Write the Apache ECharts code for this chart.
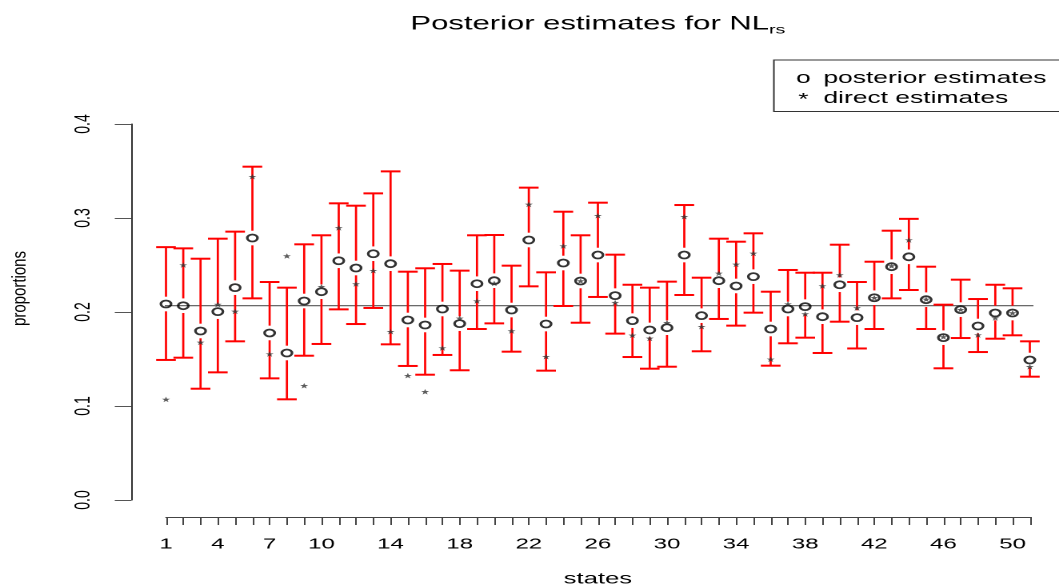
<!DOCTYPE html>
<html>
<head>
<meta charset="utf-8">
<script src="https://cdn.jsdelivr.net/npm/echarts@6/dist/echarts.min.js"></script>
<style>
  html, body { margin: 0; padding: 0; background: #fff; overflow: hidden; width: 1059px; height: 586px; }
  /* the plot is laid out on a narrower canvas and widened, like a stretched R device */
  #chart { width: 662px; height: 586px; transform: scaleX(1.5997); transform-origin: 0 0; }
</style>
</head>
<body>
<div id="chart"></div>
<script>
// state index (50 states + DC)
const states = [1, 2, 3, 4, 5, 6, 7, 8, 9, 10, 11, 12, 13, 14, 15, 16, 17, 18, 19, 20,
  21, 22, 23, 24, 25, 26, 27, 28, 29, 30, 31, 32, 33, 34, 35, 36, 37, 38, 39, 40,
  41, 42, 43, 44, 45, 46, 47, 48, 49, 50, 51];

// posterior means
const posterior = [0.2085, 0.2067, 0.1798, 0.2004, 0.2259, 0.2787, 0.1777, 0.1564, 0.2117, 0.2216,
  0.2545, 0.2468, 0.2620, 0.2514, 0.1915, 0.1862, 0.2032, 0.1876, 0.2301, 0.2333,
  0.2021, 0.2766, 0.1872, 0.2521, 0.2330, 0.2606, 0.2174, 0.1908, 0.1809, 0.1833,
  0.2606, 0.1961, 0.2333, 0.2277, 0.2376, 0.1819, 0.2032, 0.2057, 0.1950, 0.2290,
  0.1940, 0.2152, 0.2482, 0.2587, 0.2131, 0.1727, 0.2025, 0.1851, 0.1989, 0.1989, 0.1489];

// lower and upper interval limits
const lower = [0.1490, 0.1514, 0.1184, 0.1358, 0.1688, 0.2145, 0.1294, 0.1071, 0.1535, 0.1660,
  0.2028, 0.1872, 0.2043, 0.1656, 0.1426, 0.1333, 0.1543, 0.1380, 0.1819, 0.1879,
  0.1578, 0.2273, 0.1376, 0.2064, 0.1886, 0.2160, 0.1770, 0.1521, 0.1397, 0.1418,
  0.2181, 0.1582, 0.1926, 0.1855, 0.1993, 0.1429, 0.1667, 0.1727, 0.1564, 0.1897,
  0.1612, 0.1819, 0.2145, 0.2234, 0.1819, 0.1401, 0.1723, 0.1574, 0.1716, 0.1752, 0.1312];

const upper = [0.2690, 0.2677, 0.2567, 0.2780, 0.2855, 0.3546, 0.2319, 0.2259, 0.2720, 0.2816,
  0.3156, 0.3131, 0.3262, 0.3496, 0.2429, 0.2465, 0.2511, 0.2440, 0.2816, 0.2819,
  0.2493, 0.3323, 0.2422, 0.3067, 0.2816, 0.3163, 0.2610, 0.2290, 0.2259, 0.2323,
  0.3138, 0.2365, 0.2780, 0.2748, 0.2837, 0.2216, 0.2447, 0.2418, 0.2418, 0.2716,
  0.2319, 0.2535, 0.2865, 0.2991, 0.2482, 0.2078, 0.2344, 0.2138, 0.2290, 0.2252, 0.1688];

// direct survey estimates
const direct = [0.1070, 0.2500, 0.1677, 0.2080, 0.2007, 0.3440, 0.1553, 0.2596, 0.1216, 0.2269,
  0.2895, 0.2298, 0.2440, 0.1791, 0.1323, 0.1152, 0.1617, 0.1933, 0.2117, 0.2305,
  0.1798, 0.3145, 0.1525, 0.2702, 0.2330, 0.3025, 0.2100, 0.1752, 0.1720, 0.1886,
  0.3014, 0.1844, 0.2411, 0.2507, 0.2624, 0.1497, 0.2085, 0.1979, 0.2277, 0.2394,
  0.2043, 0.2152, 0.2490, 0.2766, 0.2135, 0.1735, 0.2025, 0.1755, 0.1936, 0.1990, 0.1418];

// reference level drawn across the panel
const overallMean = 0.2067;

// labelled ticks on the state axis
const xTickLabels = [1, 4, 7, 10, 14, 18, 22, 26, 30, 34, 38, 42, 46, 50];

const FONT = 'Liberation Sans, Arial, Helvetica, sans-serif';

const chart = echarts.init(document.getElementById('chart'), null, { devicePixelRatio: 2 });

const ciData = states.map((s, i) => [s, lower[i], posterior[i], upper[i]]);

function renderInterval(params, api) {
  const x = api.value(0);
  const top = api.coord([x, api.value(3)]);
  const mid = api.coord([x, api.value(2)]);
  const bot = api.coord([x, api.value(1)]);
  const gap = 7.3, cap = 6.15;
  const red = '#ff0000';
  const kids = [];
  if (mid[1] - gap > top[1]) {
    kids.push({ type: 'line', shape: { x1: top[0], y1: top[1], x2: mid[0], y2: mid[1] - gap },
      style: { stroke: red, lineWidth: 1.35 } });
  }
  if (mid[1] + gap < bot[1]) {
    kids.push({ type: 'line', shape: { x1: mid[0], y1: mid[1] + gap, x2: bot[0], y2: bot[1] },
      style: { stroke: red, lineWidth: 1.35 } });
  }
  kids.push({ type: 'line', shape: { x1: top[0] - cap, y1: top[1], x2: top[0] + cap, y2: top[1] },
    style: { stroke: red, lineWidth: 2 } });
  kids.push({ type: 'line', shape: { x1: bot[0] - cap, y1: bot[1], x2: bot[0] + cap, y2: bot[1] },
    style: { stroke: red, lineWidth: 2 } });
  return { type: 'group', children: kids };
}

const starPath = 'path://M0,-10L2.3,-3.2L9.51,-3.09L3.8,1.2L5.88,8.09L0,4L-5.88,8.09L-3.8,1.2L-9.51,-3.09L-2.3,-3.2Z';

const option = {
  animation: false,
  backgroundColor: '#ffffff',
  textStyle: { fontFamily: FONT },
  title: {
    text: '{m|Posterior estimates for NL}{s|rs}',
    left: 373.75,
    top: 12,
    padding: 0,
    textAlign: 'center',
    textStyle: {
      fontWeight: 'normal',
      rich: {
        m: { fontFamily: FONT, fontSize: 19.4, fontWeight: 'normal', color: '#000', lineHeight: 24 },
        s: { fontFamily: FONT, fontSize: 12.3, fontWeight: 'normal', color: '#000', lineHeight: 12, verticalAlign: 'bottom' }
      }
    }
  },
  legend: {
    orient: 'vertical',
    left: 483.75,
    top: 60,
    padding: [10, 40, 3, 0],
    itemGap: 3,
    itemWidth: 0,
    itemHeight: 0,
    borderColor: '#333',
    borderWidth: 1,
    selectedMode: false,
    data: ['posterior estimates', 'direct estimates'],
    formatter: name => name === 'posterior estimates'
      ? '{o|o}{t|posterior estimates}'
      : '{a|*}{t|direct estimates}',
    textStyle: {
      rich: {
        o: { fontFamily: FONT, fontSize: 16.5, width: 25, align: 'center', lineHeight: 20, color: '#000' },
        a: { fontFamily: FONT, fontSize: 16.5, width: 25, align: 'center', lineHeight: 8, verticalAlign: 'bottom', color: '#000' },
        t: { fontFamily: FONT, fontSize: 16.5, lineHeight: 20, color: '#000' }
      }
    }
  },
  grid: { left: 103.75, top: 124, width: 540, height: 376, containLabel: false, outerBoundsMode: 'none' },
  xAxis: {
    type: 'value',
    min: 1,
    max: 51,
    interval: 1,
    offset: 17,
    name: 'states',
    nameLocation: 'middle',
    nameGap: 54,
    nameTextStyle: { fontFamily: FONT, fontSize: 16, color: '#000' },
    axisLine: { onZero: false, lineStyle: { color: '#444', width: 1 } },
    axisTick: { length: 8, lineStyle: { color: '#444', width: 1 } },
    axisLabel: {
      fontFamily: FONT, fontSize: 15, color: '#000', margin: 20,
      formatter: v => (xTickLabels.indexOf(v) >= 0 ? String(v) : '')
    },
    splitLine: { show: false }
  },
  yAxis: {
    type: 'value',
    min: 0,
    max: 0.4,
    interval: 0.1,
    offset: 21.6,
    axisLine: { show: true, lineStyle: { color: '#333', width: 1 } },
    axisTick: { show: true, length: 10.4, lineStyle: { color: '#555', width: 1 } },
    axisLabel: {
      fontFamily: FONT, fontSize: 14, color: '#000', rotate: 90, margin: 23,
      formatter: v => v.toFixed(1)
    },
    splitLine: { show: false }
  },
  graphic: [{
    type: 'text',
    x: 12.8,
    y: 288.5,
    rotation: Math.PI / 2,
    scaleY: 0.8,
    style: { text: 'proportions', fontFamily: FONT, fontSize: 15, fill: '#000', align: 'center', verticalAlign: 'middle' }
  }],
  series: [
    {
      name: 'overall level',
      type: 'line',
      data: [[-1, overallMean], [53, overallMean]],
      clip: false,
      silent: true,
      symbol: 'none',
      lineStyle: { color: '#555', width: 1.2 },
      z: 1
    },
    {
      name: 'interval',
      type: 'custom',
      data: ciData,
      encode: { x: 0, y: [1, 2, 3] },
      renderItem: renderInterval,
      silent: true,
      z: 2
    },
    {
      name: 'posterior estimates',
      type: 'scatter',
      data: states.map((s, i) => [s, posterior[i]]),
      symbol: 'circle',
      symbolSize: [6.4, 7],
      itemStyle: { color: 'rgba(0,0,0,0)', borderColor: '#000', borderWidth: 1.7 },
      silent: true,
      z: 3
    },
    {
      name: 'direct estimates',
      type: 'scatter',
      data: states.map((s, i) => [s, direct[i]]),
      symbol: starPath,
      symbolSize: [5, 5.5],
      itemStyle: { color: '#333' },
      silent: true,
      z: 4
    }
  ]
};

chart.setOption(option);
</script>
</body>
</html>
